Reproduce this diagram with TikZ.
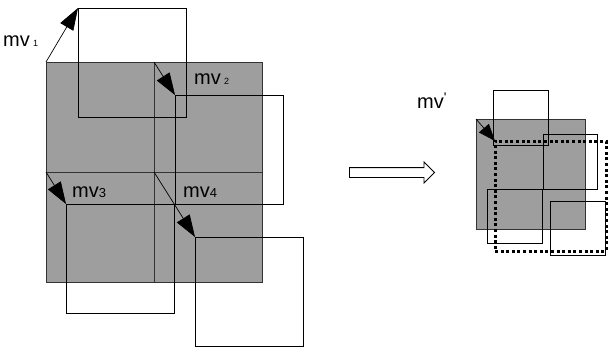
\documentclass[tikz,border=0pt]{standalone}
\usepackage{fontspec}
\setmainfont{Liberation Sans}
\usepackage{tikz}
\usetikzlibrary{positioning,arrows.meta,shapes.arrows}

\begin{document}
\begin{tikzpicture}[
		x=1pt, y=-1pt,
		font=\fontsize{20}{24}\selectfont,
		blk/.style={draw=black!80, line width=1pt, fill=black!38, inner sep=0pt, outer sep=0pt,
			anchor=north west, minimum width=108pt, minimum height=110pt},
		mvbox/.style={draw, line width=0.8pt, inner sep=0pt, outer sep=0pt, anchor=north west,
			minimum width=108pt, minimum height=109pt},
		qbox/.style={mvbox, minimum width=55pt, minimum height=55pt},
		dotbox/.style={draw, line width=3pt, dash pattern=on 3pt off 2.6pt, inner sep=0pt,
			outer sep=0pt, anchor=north west, minimum width=111pt, minimum height=110pt},
		arr/.style={-{Triangle[length=22pt,width=15pt]}, line width=0.7pt},
		lbl/.style={anchor=base west, inner sep=0pt}
		]
		\useasboundingbox (0,0) rectangle (610,349);
		% current frame, four blocks
		\node[blk] (b1) at (46,62) {};
		\node[blk] (b2) at (154,62) {};
		\node[blk] (b3) at (46,172) {};
		\node[blk] (b4) at (154,172) {};
		% displaced reference blocks
		\node[mvbox] (r1) at (78,8) {};
		\node[mvbox] (r2) at (175,95) {};
		\node[mvbox] (r3) at (66,204) {};
		\node[mvbox] (r4) at (195,237) {};
		\draw[arr] (b1.north west) -- (r1.north west);
		\draw[arr] (b2.north west) -- (r2.north west);
		\draw[arr] (b3.north west) -- (r3.north west);
		\draw[arr] (b4.north west) -- (r4.north west);
		\node[lbl] (l1) at (3,46) {mv\,{\fontsize{9}{10}\selectfont 1}};
		\node[lbl] (l2) at (194,84) {mv\,{\fontsize{9}{10}\selectfont 2}};
		\node[lbl] (l3) at (72,197) {mv{\fontsize{13}{14}\selectfont 3}};
		\node[lbl] (l4) at (183,197) {mv{\fontsize{13}{14}\selectfont 4}};
		% hollow arrow
		\node[single arrow, draw, line width=0.8pt, fill=white, text height=0pt, text depth=0pt,
		inner xsep=0pt, inner ysep=4.5pt, minimum height=85pt, minimum width=20pt,
		single arrow head extend=5.5pt] (go) at (389.5,172.5) {};
		% merged block
		\node[blk, minimum width=109pt] (cb) at (476,119) {};
		\node[qbox] (q1) at (493,90) {};
		\node[qbox, minimum width=54pt] (q2) at (543,134) {};
		\node[qbox, minimum height=54pt] (q3) at (487,189) {};
		\node[qbox, minimum height=54pt] (q4) at (550,201) {};
		\node[dotbox] (mb) at (495,141) {};
		\draw[arr, -{Triangle[length=17pt,width=13pt]}] (cb.north west) -- (mb.north west);
		\node[lbl] (lm) at (417,108) {mv\raisebox{6pt}{\fontsize{14}{14}\selectfont\textquotesingle}};
	\end{tikzpicture}
\end{document}
